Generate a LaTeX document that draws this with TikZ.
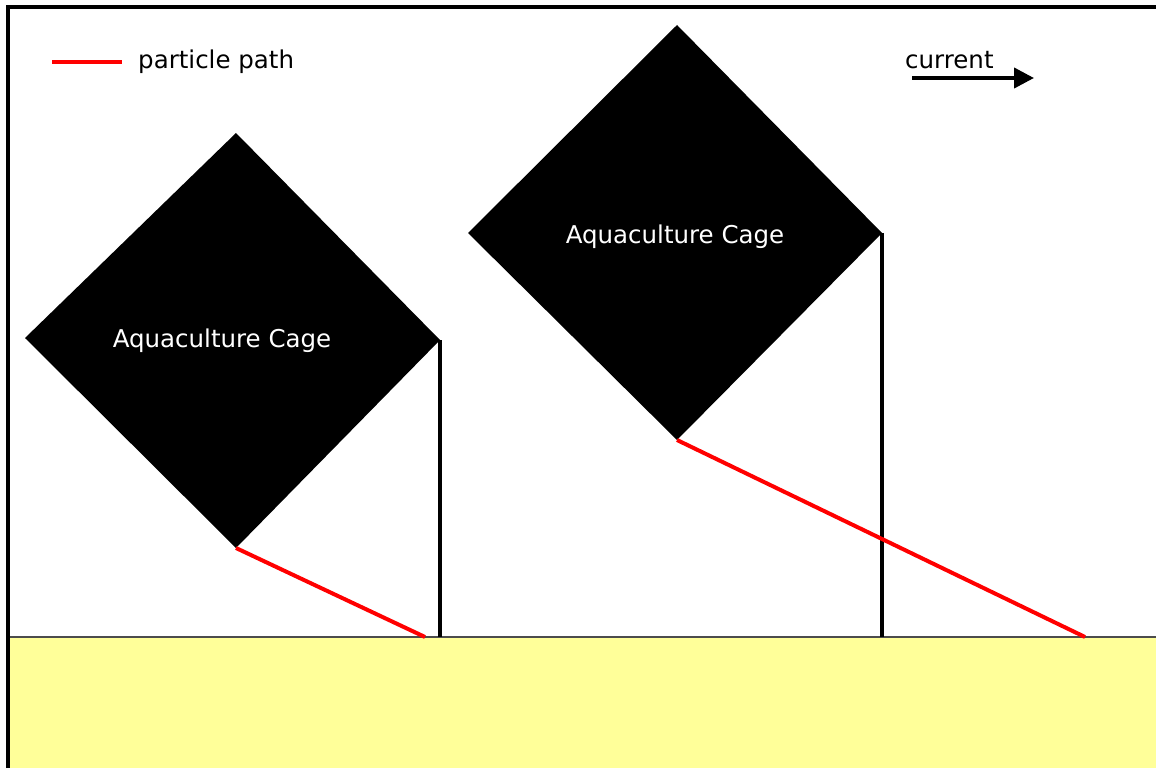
\documentclass[tikz,border=0pt]{standalone}
\usepackage{fontspec}
\setmainfont{DejaVu Sans}
\usepackage{xcolor}
\usepackage{tikz}
\usetikzlibrary{arrows.meta}

\definecolor{seabed}{HTML}{FFFF99}

\begin{document}
\begin{tikzpicture}[
    x=1pt, y=-1pt,
    cage/.style={fill=black},
    cagetext/.style={text=white, font=\fontsize{24.5}{29}\selectfont, inner sep=0pt, anchor=base},
    plaintext/.style={font=\fontsize{24.5}{29}\selectfont, inner sep=0pt, anchor=base west},
    mooring/.style={line width=4pt, black},
    particle/.style={line width=4pt, red},
    arrow/.style={-{Triangle[length=20pt,width=20pt]}, line width=4pt}
]
\useasboundingbox (0,0) rectangle (1156,768);

% Seabed
\fill[seabed] (8,637) rectangle (1156,768);
\draw[line width=2pt, black!70] (8,637) -- (1156,637);

% Frame
\draw[line width=4pt] (8,768) -- (8,7) -- (1156,7);

% Legend
\coordinate (legA) at (52,62);
\coordinate (legB) at (122,62);
\draw[particle] (legA) -- (legB);
\node[plaintext] (legtext) at (138,68) {particle path};

\node[plaintext] (curtext) at (905,68) {current};
\coordinate (curA) at (912,78);
\coordinate (curB) at (1034,78);
\draw[arrow] (curA) -- (curB);

% Left cage
\coordinate (c1top) at (236,133);
\coordinate (c1left) at (25,338);
\coordinate (c1bot) at (236,548);
\coordinate (c1right) at (440,340);
\fill[cage] (c1top) -- (c1right) -- (c1bot) -- (c1left) -- cycle;
\node[cagetext] (c1text) at (222,347) {Aquaculture Cage};
\coordinate (c1anchor) at (440,637);
\coordinate (c1land) at (425,637);
\draw[mooring] (c1right) -- (c1anchor);
\draw[particle] (c1bot) -- (c1land);

% Right cage
\coordinate (c2top) at (677,25);
\coordinate (c2left) at (468,233);
\coordinate (c2bot) at (677,440);
\coordinate (c2right) at (882,233);
\fill[cage] (c2top) -- (c2right) -- (c2bot) -- (c2left) -- cycle;
\node[cagetext] (c2text) at (675,243) {Aquaculture Cage};
\coordinate (c2anchor) at (882,637);
\coordinate (c2land) at (1085,637);
\draw[mooring] (c2right) -- (c2anchor);
\draw[particle] (c2bot) -- (c2land);

\end{tikzpicture}
\end{document}
